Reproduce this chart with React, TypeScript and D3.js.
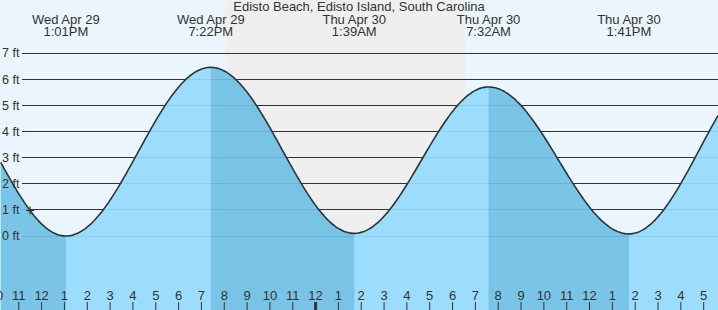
import React from "react";
import * as d3 from "d3";

const W = 718;
const H = 310;

const title = "Edisto Beach, Edisto Island, South Carolina";
const domainTimes = ["2026-04-29T10:08", "2026-04-30T17:35"];
const eventTimes = [
  "2026-04-29T07:05",
  "2026-04-29T13:01",
  "2026-04-29T19:22",
  "2026-04-30T01:39",
  "2026-04-30T07:32",
  "2026-04-30T13:41",
  "2026-04-30T19:50",
];
const eventHeights = [6.0, 0.0, 6.45, 0.1, 5.7, 0.08, 6.5];
const sunsetTimes = ["2026-04-29T20:00"];
const sunriseTimes = ["2026-04-30T06:31"];
const nowTime = "2026-04-29T11:27";
const yTicks = [0, 1, 2, 3, 4, 5, 6, 7];

const parse = d3.timeParse("%Y-%m-%dT%H:%M");
const fmtDay = d3.timeFormat("%a %b %d");
const fmtTime = d3.timeFormat("%-I:%M%p");
const fmtHour = d3.timeFormat("%-I");

const FONT = "'Liberation Sans', Arial, sans-serif";
const TXT = "#333";

export default function App() {
  const t0 = parse(domainTimes[0])!;
  const t1 = parse(domainTimes[1])!;
  const x = d3.scaleTime().domain([t0, t1]).range([0, W]);
  const y = d3.scaleLinear().domain([0, 7]).range([236, 53]);

  const ev = eventTimes.map((t, i) => ({ t: parse(t)!, h: eventHeights[i] }));

  const heightAt = (t: Date) => {
    for (let i = 0; i < ev.length - 1; i++) {
      const a = ev[i], b = ev[i + 1];
      if (t >= a.t && t <= b.t) {
        const f = (+t - +a.t) / (+b.t - +a.t);
        return a.h + (b.h - a.h) * (1 - Math.cos(Math.PI * f)) / 2;
      }
    }
    return ev[ev.length - 1].h;
  };

  const samples = d3.timeMinute.every(5)!.range(t0, t1).concat([t1]);
  const pts = samples.map((t) => ({ t, h: heightAt(t) }));

  const line = d3
    .line<{ t: Date; h: number }>()
    .x((d) => x(d.t))
    .y((d) => y(d.h))
    .curve(d3.curveMonotoneX);
  const area = d3
    .area<{ t: Date; h: number }>()
    .x((d) => x(d.t))
    .y0(H)
    .y1((d) => y(d.h))
    .curve(d3.curveMonotoneX);

  const falling: { a: number; b: number }[] = [];
  for (let i = 0; i < ev.length - 1; i++) {
    if (ev[i].h > ev[i + 1].h) {
      falling.push({ a: Math.max(0, x(ev[i].t)), b: Math.min(W, x(ev[i + 1].t)) });
    }
  }

  const nights = sunsetTimes.map((s, i) => ({
    a: x(parse(s)!),
    b: x(parse(sunriseTimes[i])!),
  }));

  const visibleEvents = ev.filter((e) => e.t >= t0 && e.t <= t1);
  const hours = d3.timeHour.every(1)!.range(d3.timeHour.floor(t0), t1);
  const now = parse(nowTime)!;
  const nx = x(now);
  const ny = y(heightAt(now));

  return (
    <svg
      width={W}
      height={H}
      style={{ position: "fixed", left: 0, top: 0, display: "block" }}
      fontFamily={FONT}
    >
      <defs>
        <clipPath id="plot">
          <rect x={0} y={0} width={W} height={H} />
        </clipPath>
        <clipPath id="water">
          <path d={area(pts)!} />
        </clipPath>
      </defs>
      <rect x={0} y={0} width={W} height={H} fill="#eaf5fe" />
      {nights.map((n, i) => (
        <rect key={i} x={n.a} y={0} width={n.b - n.a} height={H} fill="#efefef" />
      ))}
      {yTicks.map((v) => (
        <line key={v} x1={22} x2={W} y1={y(v)} y2={y(v)} stroke="#333" strokeWidth={1} shapeRendering="crispEdges" />
      ))}
      <g opacity={0.92} clipPath="url(#plot)">
        <path d={area(pts)!} fill="#96dbfe" />
        <g clipPath="url(#water)">
          {falling.map((s, i) => (
            <rect key={i} x={s.a} y={0} width={s.b - s.a} height={H} fill="#70c0e6" />
          ))}
        </g>
      </g>
      {yTicks.map((v) => (
        <text key={v} x={2} y={y(v)} dy="0.35em" fontSize={12.5} fill={TXT}>
          {v} ft
        </text>
      ))}
      <path d={line(pts)!} fill="none" stroke="#333" strokeWidth={1.6} />
      <g stroke="#333" strokeWidth={1.2}>
        <line x1={nx - 4} x2={nx + 4} y1={ny} y2={ny} />
        <line x1={nx} x2={nx} y1={ny - 4} y2={ny + 4} />
      </g>
      <text x={W / 2} y={11} textAnchor="middle" fontSize={13} fill={TXT}>
        {title}
      </text>
      {visibleEvents.map((e, i) => (
        <g key={i} fontSize={13} fill={TXT} textAnchor="middle">
          <text x={x(e.t)} y={24}>{fmtDay(e.t)}</text>
          <text x={x(e.t)} y={36}>{fmtTime(e.t)}</text>
        </g>
      ))}
      {hours.map((h, i) => {
        const hx = x(h) - 1;
        const mid = h.getHours() === 0;
        return (
          <g key={i}>
            <line
              x1={hx}
              x2={hx}
              y1={302}
              y2={H}
              stroke="#333"
              strokeWidth={mid ? 3 : 1}
            />
            <text x={hx} y={300} textAnchor="middle" fontSize={13} fill={TXT}>
              {fmtHour(h)}
            </text>
          </g>
        );
      })}
    </svg>
  );
}
